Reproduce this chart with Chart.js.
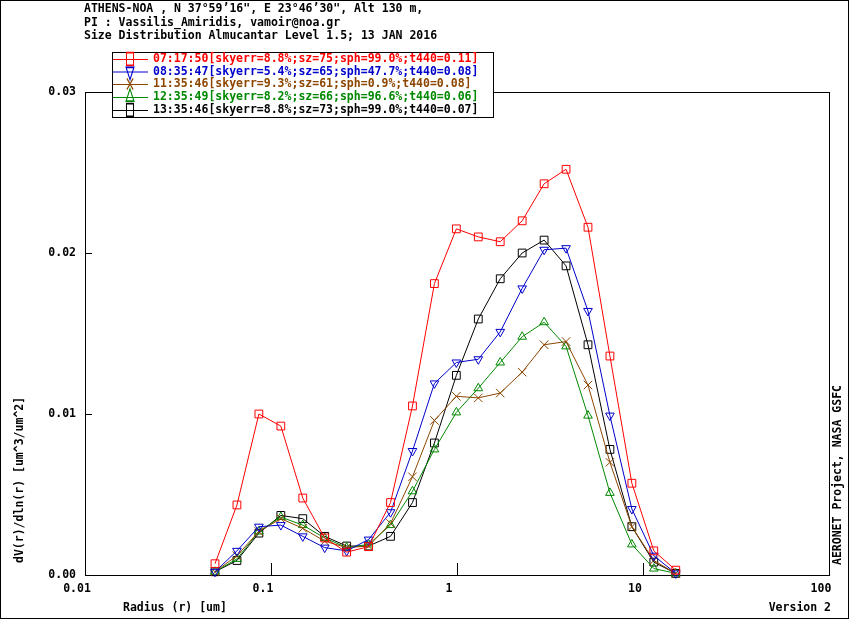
<!DOCTYPE html>
<html>
<head>
<meta charset="utf-8">
<title>ATHENS-NOA Size Distribution</title>
<script src="https://cdn.jsdelivr.net/npm/chart.js@4.4.0/dist/chart.umd.min.js"></script>
<style>
  body { margin: 0; background: #fff; }
  canvas { display: block; }
</style>
</head>
<body>
<canvas id="grafico" width="850" height="620"></canvas>
<script>
// Radios de los 22 bins AERONET (um)
const radio = [0.05, 0.065604, 0.086077, 0.112939, 0.148184, 0.194429, 0.255105, 0.334716,
  0.439173, 0.576227, 0.756052, 0.991996, 1.301571, 1.707757, 2.240702, 2.939966,
  3.857452, 5.06126, 6.640745, 8.713145, 11.432287, 15.0];

// dV(r)/dln(r) por medicion
const serie0717 = [0.0007, 0.00435, 0.0100, 0.00925, 0.00478, 0.0023, 0.00142, 0.00176, 0.0045, 0.0105, 0.0181,
  0.0215, 0.0210, 0.0207, 0.0220, 0.0243, 0.0252, 0.0216, 0.0136, 0.0057, 0.0015, 0.0003];
const serie0835 = [0.0002, 0.0015, 0.0030, 0.0031, 0.0024, 0.0017, 0.0015, 0.0022, 0.0039, 0.0077, 0.0119,
  0.0132, 0.0134, 0.0151, 0.0178, 0.0202, 0.0203, 0.0164, 0.0099, 0.0041, 0.0012, 0.0001];
const serie1135 = [0.0002, 0.0012, 0.0027, 0.0035, 0.0029, 0.0021, 0.0017, 0.0018, 0.0032, 0.0061, 0.0096,
  0.0111, 0.0110, 0.0113, 0.0126, 0.0143, 0.0145, 0.0118, 0.0070, 0.0030, 0.0009, 0.0001];
const serie1235 = [0.0002, 0.0010, 0.0027, 0.0036, 0.0031, 0.0023, 0.0017, 0.0019, 0.0031, 0.0052, 0.0078,
  0.0101, 0.0116, 0.0132, 0.0148, 0.0157, 0.0142, 0.0099, 0.0051, 0.0019, 0.0004, 0.0001];
const serie1335 = [0.0002, 0.0009, 0.0026, 0.0037, 0.0035, 0.0024, 0.0018, 0.0018, 0.0024, 0.0045, 0.0082,
  0.0124, 0.0159, 0.0184, 0.0200, 0.0208, 0.0192, 0.0143, 0.0078, 0.0030, 0.0008, 0.0001];

const etiquetas = [
  '07:17:50[skyerr=8.8%;sz=75;sph=99.0%;t440=0.11]',
  '08:35:47[skyerr=5.4%;sz=65;sph=47.7%;t440=0.08]',
  '11:35:46[skyerr=9.3%;sz=61;sph=0.9%;t440=0.08]',
  '12:35:49[skyerr=8.2%;sz=66;sph=96.6%;t440=0.06]',
  '13:35:46[skyerr=8.8%;sz=73;sph=99.0%;t440=0.07]'
];

const cabecera = [
  'ATHENS-NOA , N 37\u00b059\u201916", E 23\u00b046\u201930", Alt 130 m,',
  'PI : Vassilis_Amiridis, vamoir@noa.gr',
  'Size Distribution Almucantar Level 1.5; 13 JAN 2016'
];

const xTicks = [0.01, 0.1, 1, 10, 100];
const xTickLabels = ['0.01', '0.1', '1', '10', '100'];
const yTicks = [0, 0.01, 0.02, 0.03];
const yTickLabels = ['0.00', '0.01', '0.02', '0.03'];

const FUENTE = 'bold 11.5px "DejaVu Sans Mono"';

const estilos = [
  { color: '#ff0000', pointStyle: 'rect', rotation: 0, radius: 5.5 },
  { color: '#0000cc', pointStyle: 'triangle', rotation: 180, radius: 5 },
  { color: '#8c4600', pointStyle: 'crossRot', rotation: 0, radius: 6 },
  { color: '#008800', pointStyle: 'triangle', rotation: 0, radius: 5 },
  { color: '#000000', pointStyle: 'rect', rotation: 0, radius: 5.5 }
];

const series = [serie0717, serie0835, serie1135, serie1235, serie1335];

const datasets = series.map((valores, i) => ({
  label: etiquetas[i],
  data: valores.map((v, j) => ({ x: radio[j], y: v })),
  borderColor: estilos[i].color,
  backgroundColor: 'rgba(0,0,0,0)',
  borderWidth: 1,
  pointStyle: estilos[i].pointStyle,
  rotation: estilos[i].rotation,
  pointRadius: estilos[i].radius,
  pointBorderWidth: 1,
  pointBorderColor: estilos[i].color,
  pointBackgroundColor: 'rgba(0,0,0,0)',
  tension: 0,
  fill: false,
  clip: false
}));

// Marco, ticks hacia dentro, textos y leyenda
const decoracion = {
  id: 'decoracion',
  beforeDatasetsDraw(chart) {
    const { ctx, chartArea: a, scales } = chart;
    ctx.save();
    ctx.strokeStyle = '#000';
    ctx.lineWidth = 1;
    ctx.strokeRect(a.left + 0.5, a.top + 0.5, a.right - a.left, a.bottom - a.top);

    ctx.beginPath();
    xTicks.slice(1, -1).forEach(v => {
      const px = Math.round(scales.x.getPixelForValue(v)) + 0.5;
      ctx.moveTo(px, a.bottom);
      ctx.lineTo(px, a.bottom - 12);
    });
    yTicks.slice(1, -1).forEach(v => {
      const py = Math.round(scales.y.getPixelForValue(v)) + 0.5;
      ctx.moveTo(a.left, py);
      ctx.lineTo(a.left + 7, py);
    });
    ctx.stroke();
    ctx.restore();
  },
  afterDraw(chart) {
    const { ctx } = chart;
    ctx.save();
    ctx.font = FUENTE;
    ctx.fillStyle = '#000';
    ctx.textBaseline = 'middle';

    // borde exterior
    ctx.strokeStyle = '#000';
    ctx.lineWidth = 1;
    ctx.strokeRect(0.5, 0.5, 848, 618);

    ctx.textAlign = 'left';
    cabecera.forEach((t, i) => ctx.fillText(t, 84, [9, 23, 36][i]));

    ctx.fillText('Radius (r) [um]', 123, 608);
    ctx.textAlign = 'right';
    ctx.fillText('Version 2', 831, 608);

    ctx.textAlign = 'left';
    ctx.save();
    ctx.translate(20, 563);
    ctx.rotate(-Math.PI / 2);
    ctx.fillText('dV(r)/dln(r) [um^3/um^2]', 0, 0);
    ctx.restore();

    ctx.save();
    ctx.translate(838, 565);
    ctx.rotate(-Math.PI / 2);
    ctx.fillText('AERONET Project, NASA GSFC', 0, 0);
    ctx.restore();

    // leyenda
    ctx.fillStyle = '#fff';
    ctx.fillRect(112, 52, 381, 65);
    ctx.strokeStyle = '#000';
    ctx.strokeRect(112.5, 52.5, 381, 65);
    const filas = [59, 71.5, 84, 97, 110];
    etiquetas.forEach((t, i) => {
      const y = filas[i];
      const c = estilos[i].color;
      ctx.strokeStyle = c;
      ctx.beginPath();
      ctx.moveTo(113, y + 0.5);
      ctx.lineTo(148, y + 0.5);
      ctx.stroke();
      ctx.save();
      ctx.translate(130, y);
      ctx.scale(1, 1.8);
      ctx.fillStyle = 'rgba(0,0,0,0)';
      Chart.helpers.drawPoint(ctx, {
        pointStyle: estilos[i].pointStyle,
        rotation: estilos[i].rotation,
        radius: estilos[i].pointStyle === 'rect' ? 5 : 4.5,
        borderWidth: 0.8
      }, 0, 0);
      ctx.restore();
      ctx.fillStyle = c;
      ctx.fillText(t, 153, y + 0.5);
    });
    ctx.restore();
  }
};

new Chart(document.getElementById('grafico'), {
  type: 'line',
  data: { datasets },
  options: {
    responsive: false,
    animation: false,
    devicePixelRatio: 1,
    layout: { padding: { top: 92, right: 21, left: 0, bottom: 0 } },
    plugins: {
      legend: { display: false },
      tooltip: { enabled: false }
    },
    scales: {
      x: {
        type: 'logarithmic',
        min: 0.01,
        max: 100,
        afterFit: scale => { scale.height = 45; },
        afterBuildTicks: scale => { scale.ticks = xTicks.map(v => ({ value: v })); },
        grid: { display: false, drawTicks: false },
        border: { display: false },
        ticks: {
          color: '#000',
          font: { family: 'DejaVu Sans Mono', size: 11.5, weight: 'bold' },
          padding: 7,
          labelOffset: -8,
          maxRotation: 0,
          autoSkip: false,
          callback: (v, i) => xTickLabels[i]
        }
      },
      y: {
        min: 0,
        max: 0.03,
        afterFit: scale => { scale.width = 85; },
        afterBuildTicks: scale => { scale.ticks = yTicks.map(v => ({ value: v })); },
        grid: { display: false, drawTicks: false },
        border: { display: false },
        ticks: {
          color: '#000',
          font: { family: 'DejaVu Sans Mono', size: 11.5, weight: 'bold' },
          padding: 9,
          autoSkip: false,
          callback: (v, i) => yTickLabels[i]
        }
      }
    }
  },
  plugins: [decoracion]
});
</script>
</body>
</html>
